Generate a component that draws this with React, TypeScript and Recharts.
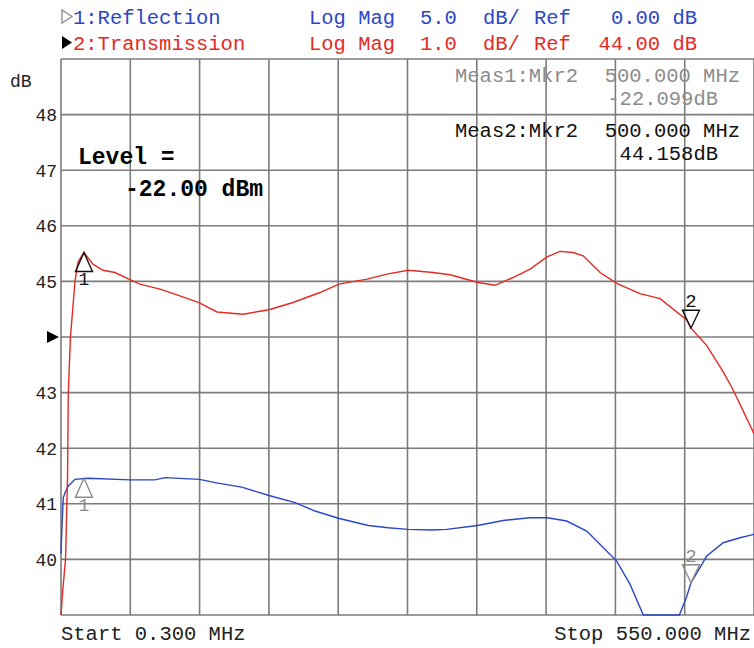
import React from 'react';
import { LineChart, Line, XAxis, YAxis, CartesianGrid, ReferenceDot, ReferenceLine } from 'recharts';

// Frequency grid (MHz): start 0.300 MHz, stop 550.000 MHz, 10 divisions
const freqTicks = [0.3, 55.27, 110.24, 165.21, 220.18, 275.15, 330.12, 385.09, 440.06, 495.03, 550];
// Left scale (Transmission, 1 dB/div, ref 44 dB)
const dbTicks = [39, 40, 41, 42, 43, 44, 45, 46, 47, 48, 49];

// Trace 2: Transmission (dB)
const transFreq = [0.3, 1.9, 3.9, 5.5, 6.1, 7.8, 11.4, 13.8, 18.5, 25.6, 33.6, 43.1, 55.0, 62.9, 78.8, 94.6, 109.7, 124.0, 144.7, 165.3, 184.3, 205.7, 220.8, 243.0, 258.9, 275.6, 295.4, 308.9, 316.8, 331.1, 344.6, 358.9, 372.4, 385.8, 396.1, 406.4, 414.4, 427.9, 441.4, 459.6, 475.5, 496.9, 500.0, 512.4, 525.1, 533.0, 550.0];
const transDb = [39.0, 39.5, 40.0, 41.5, 43.0, 44.0, 45.0, 45.35, 45.52, 45.31, 45.2, 45.16, 45.03, 44.95, 44.86, 44.74, 44.62, 44.45, 44.41, 44.49, 44.62, 44.8, 44.95, 45.04, 45.13, 45.2, 45.16, 45.12, 45.07, 44.98, 44.93, 45.07, 45.22, 45.44, 45.54, 45.52, 45.46, 45.16, 44.96, 44.78, 44.69, 44.3, 44.158, 43.85, 43.39, 43.07, 42.26];

// Trace 1: Reflection (dB, 5 dB/div, ref 0 dB)
const reflFreq = [0.3, 1.1, 2.1, 3.5, 6.1, 11.4, 22.0, 55.0, 74.9, 82.8, 110.3, 122.5, 143.6, 165.3, 185.9, 201.8, 220.3, 244.1, 259.9, 275.3, 294.3, 306.2, 330.8, 351.1, 372.3, 386.0, 401.4, 417.3, 430.5, 441.1, 451.7, 462.2, 490.8, 496.6, 500.0, 504.5, 512.5, 525.6, 538.9, 550.0];
const reflDb = [-19.5, -17.0, -14.45, -14.0, -13.4, -12.8, -12.7, -12.85, -12.85, -12.65, -12.8, -13.1, -13.5, -14.25, -14.9, -15.65, -16.3, -16.95, -17.15, -17.3, -17.35, -17.3, -16.95, -16.5, -16.25, -16.25, -16.55, -17.45, -18.95, -20.15, -22.25, -25, -25, -23.35, -22.1, -21.25, -19.7, -18.5, -18.05, -17.75];

// Markers
const marker1Freq = 18.5;
const marker2Freq = 500.0;
const marker1Trans = 45.52;
const marker2Trans = 44.158;
const marker1Refl = -12.7;
const marker2Refl = -22.099;

const transData = transFreq.map((f, i) => ({ f, v: transDb[i] }));
const reflData = reflFreq.map((f, i) => ({ f, v: reflDb[i] }));

const MONO = '"Liberation Mono", "DejaVu Sans Mono", monospace';
const RED = '#e42a24';
const BLUE = '#2b46c8';
const GRID = '#7c7c7c';
const MKGRAY = '#8a8a8a';

const YTick = (props: any) => {
  const { y, payload } = props;
  const v = payload.value;
  if (v === 44) {
    return <polygon points={`47,${y - 6} 59,${y} 47,${y + 6}`} fill="#000" />;
  }
  if (v <= 39 || v >= 49) return <g />;
  return (
    <text x={57} y={y + 6.5} textAnchor="end" fontFamily={MONO} fontSize={18} fill="#222">
      {v}
    </text>
  );
};

const upMarker = (color: string, label: string) => (props: any) => {
  const { cx, cy } = props;
  return (
    <g>
      <polygon
        points={`${cx},${cy} ${cx - 8.5},${cy + 19} ${cx + 8.5},${cy + 19}`}
        fill="none"
        stroke={color}
        strokeWidth={1.4}
      />
      <text x={cx} y={cy + 33} textAnchor="middle" fontFamily={MONO} fontSize={18} fill={color}>
        {label}
      </text>
    </g>
  );
};

const downMarker = (color: string, label: string) => (props: any) => {
  const { cx, cy } = props;
  return (
    <g>
      <polygon
        points={`${cx},${cy} ${cx - 8.5},${cy - 18} ${cx + 8.5},${cy - 18}`}
        fill="none"
        stroke={color}
        strokeWidth={1.4}
      />
      <text x={cx} y={cy - 21} textAnchor="middle" fontFamily={MONO} fontSize={19} fill={color}>
        {label}
      </text>
    </g>
  );
};

export default function App() {
  const hdr = { fontFamily: MONO, fontSize: 20.5 } as const;
  return (
    <div style={{ position: 'absolute', left: 0, top: 0, width: 754, height: 648, background: '#fff' }}>
      <LineChart width={754} height={648} data={transData} margin={{ top: 59, right: 0, left: 0, bottom: 33 }}>
        <XAxis
          xAxisId="x"
          type="number"
          dataKey="f"
          domain={[0.3, 550]}
          ticks={freqTicks}
          tick={false}
          tickLine={false}
          axisLine={false}
          height={0}
        />
        <YAxis
          yAxisId="l"
          type="number"
          domain={[39, 49]}
          ticks={dbTicks}
          width={61}
          tickLine={false}
          axisLine={false}
          tick={<YTick />}
          interval={0}
        />
        <YAxis yAxisId="r" type="number" domain={[-25, 25]} hide orientation="right" />
        <CartesianGrid xAxisId="x" yAxisId="l" vertical={false} stroke={GRID} strokeWidth={1.6} />
        {freqTicks.map((f) => (
          <ReferenceLine
            key={f}
            xAxisId="x"
            yAxisId="l"
            x={f}
            stroke={GRID}
            strokeWidth={1.6}
            ifOverflow="extendDomain"
          />
        ))}
        <Line
          xAxisId="x"
          yAxisId="r"
          data={reflData}
          dataKey="v"
          type="linear"
          stroke={BLUE}
          strokeWidth={1.4}
          dot={false}
          isAnimationActive={false}
        />
        <Line
          xAxisId="x"
          yAxisId="l"
          data={transData}
          dataKey="v"
          type="linear"
          stroke={RED}
          strokeWidth={1.4}
          dot={false}
          isAnimationActive={false}
        />
        <ReferenceDot xAxisId="x" yAxisId="l" x={marker1Freq} y={marker1Trans} shape={upMarker('#111', '1')} />
        <ReferenceDot xAxisId="x" yAxisId="l" x={marker2Freq} y={marker2Trans} shape={downMarker('#111', '2')} />
        <ReferenceDot xAxisId="x" yAxisId="r" x={marker1Freq} y={marker1Refl} shape={upMarker(MKGRAY, '1')} />
        <ReferenceDot xAxisId="x" yAxisId="r" x={marker2Freq} y={marker2Refl} shape={downMarker(MKGRAY, '2')} />
      </LineChart>
      <svg width={754} height={648} style={{ position: 'absolute', left: 0, top: 0, pointerEvents: 'none' }}>
        {/* Header line 1 */}
        <polygon points="62,10 72,16.5 62,23" fill="none" stroke="#8a8a8a" strokeWidth={1.3} />
        <text x={73} y={24} {...hdr} fill={BLUE}>1:Reflection</text>
        <text x={309} y={24} {...hdr} fill={BLUE}>Log Mag</text>
        <text x={420} y={24} {...hdr} fill={BLUE}>5.0</text>
        <text x={483} y={24} {...hdr} fill={BLUE}>dB/</text>
        <text x={534} y={24} {...hdr} fill={BLUE}>Ref</text>
        <text x={697} y={24} {...hdr} fill={BLUE} textAnchor="end">0.00 dB</text>
        {/* Header line 2 */}
        <polygon points="62,36 72,42.5 62,49" fill="#000" />
        <text x={73} y={50} {...hdr} fill={RED}>2:Transmission</text>
        <text x={309} y={50} {...hdr} fill={RED}>Log Mag</text>
        <text x={420} y={50} {...hdr} fill={RED}>1.0</text>
        <text x={483} y={50} {...hdr} fill={RED}>dB/</text>
        <text x={534} y={50} {...hdr} fill={RED}>Ref</text>
        <text x={697} y={50} {...hdr} fill={RED} textAnchor="end">44.00 dB</text>
        {/* Axis unit */}
        <text x={10} y={87} fontFamily={MONO} fontSize={18} fill="#222">dB</text>
        {/* Measurements */}
        <text x={455} y={82} {...hdr} fill="#8c8c8c">Meas1:Mkr2</text>
        <text x={740} y={82} {...hdr} fill="#8c8c8c" textAnchor="end">500.000 MHz</text>
        <text x={718} y={105} {...hdr} fill="#8c8c8c" textAnchor="end">-22.099dB</text>
        <text x={455} y={137} {...hdr} fill="#111">Meas2:Mkr2</text>
        <text x={740} y={137} {...hdr} fill="#111" textAnchor="end">500.000 MHz</text>
        <text x={718} y={160} {...hdr} fill="#111" textAnchor="end">44.158dB</text>
        {/* Level */}
        <text x={78} y={164} fontFamily={MONO} fontSize={23} fontWeight="bold" fill="#000">Level =</text>
        <text x={125} y={196} fontFamily={MONO} fontSize={23} fontWeight="bold" fill="#000">-22.00 dBm</text>
        {/* Start / Stop */}
        <text x={61} y={640} {...hdr} fill="#222">Start 0.300 MHz</text>
        <text x={751} y={640} {...hdr} fill="#222" textAnchor="end">Stop 550.000 MHz</text>
      </svg>
    </div>
  );
}
